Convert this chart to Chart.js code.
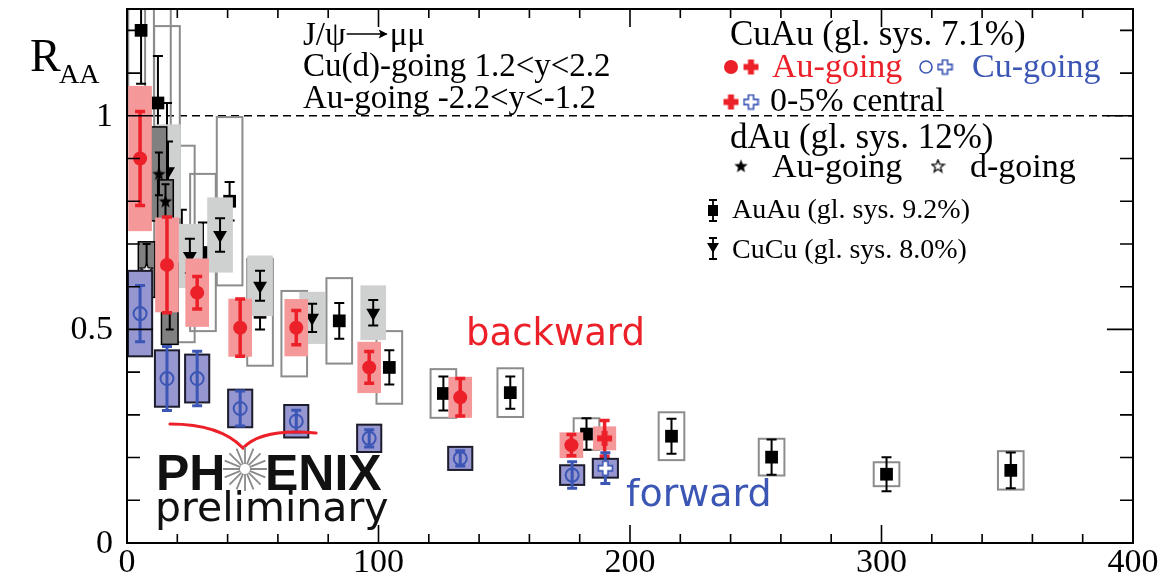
<!DOCTYPE html>
<html>
<head>
<meta charset="utf-8">
<script src="https://cdn.jsdelivr.net/npm/chart.js@4"></script>
<style>
  html, body { margin: 0; padding: 0; background: #fff; }
  #wrap { width: 1163px; height: 583px; position: relative; }
</style>
</head>
<body>
<div id="wrap"><canvas id="c" width="1163" height="583"></canvas></div>
<script>
// ---- J/psi R_AA vs Npart -------------------------------------------------

// Au+Au, forward/backward rapidity (black squares, open boxes)
const auauNpart = [5.6, 12.3, 15.9, 21.8, 30.2, 40.8, 52.9, 66.5, 84.4, 104.3, 125.8, 152.4, 182.7, 216.5, 256.3, 302.0, 351.4];
const auauRaa   = [1.20, 1.03, 0.93, 0.70, 0.68, 0.80, 0.54, 0.49, 0.52, 0.411, 0.350, 0.352, 0.255, 0.250, 0.201, 0.161, 0.170];
const auauStat  = [0.125, 0.11, 0.10, 0.08, 0.07, 0.045, 0.04, 0.05, 0.042, 0.040, 0.040, 0.038, 0.037, 0.041, 0.041, 0.040, 0.042];
const auauSys   = [0.20, 0.25, 0.28, 0.23, 0.184, 0.197, 0.125, 0.10, 0.10, 0.085, 0.057, 0.057, 0.037, 0.056, 0.043, 0.028, 0.045];

// Cu+Cu (black down triangles, light grey boxes)
const cucuNpart = [16.3, 25.0, 37.0, 52.9, 73.6, 97.9];
const cucuRaa   = [0.87, 0.672, 0.721, 0.602, 0.527, 0.539];
const cucuStat  = [0.07, 0.040, 0.039, 0.035, 0.033, 0.030];
const cucuSys   = [0.11, 0.075, 0.088, 0.071, 0.061, 0.064];

// d+Au, Au-going (filled stars) and d-going (open stars), dark grey boxes
const dauAuGoingNpart = [12.7, 15.3];
const dauAuGoingRaa   = [0.864, 0.80];
const dauAuGoingStat  = [0.05, 0.04];
const dauAuGoingSys   = [0.11, 0.05];
const dauDGoingNpart  = [7.8, 17.0];
const dauDGoingRaa    = [0.64, 0.56];
const dauDGoingStat   = [0.06, 0.06];
const dauDGoingSys    = [0.065, 0.095];

// Cu+Au, Au-going (backward): red filled circles, pink boxes
const cuauAuNpart = [5.2, 15.9, 27.9, 45.0, 67.3, 96.3, 132.5, 176.7];
const cuauAuRaa   = [0.90, 0.651, 0.586, 0.504, 0.504, 0.411, 0.341, 0.229];
const cuauAuStat  = [0.11, 0.112, 0.038, 0.067, 0.040, 0.037, 0.044, 0.025];
const cuauAuSys   = [0.17, 0.111, 0.080, 0.068, 0.067, 0.060, 0.048, 0.030];
// Cu+Au 0-5% central, Au-going (red cross)
const cuauAuCentNpart = [189.9];
const cuauAuCentRaa   = [0.245];
const cuauAuCentStat  = [0.042];
const cuauAuCentSys   = [0.028];

// Cu+Au, Cu-going (forward): blue open circles, blue boxes
const cuauCuNpart = [5.2, 15.9, 27.9, 45.0, 67.3, 96.3, 132.5, 177.0];
const cuauCuRaa   = [0.537, 0.385, 0.385, 0.315, 0.285, 0.245, 0.198, 0.159];
const cuauCuStat  = [0.066, 0.075, 0.064, 0.041, 0.026, 0.020, 0.018, 0.031];
const cuauCuSys   = [0.100, 0.066, 0.056, 0.044, 0.038, 0.032, 0.027, 0.023];
// Cu+Au 0-5% central, Cu-going (blue open cross)
const cuauCuCentNpart = [190.2];
const cuauCuCentRaa   = [0.175];
const cuauCuCentStat  = [0.036];
const cuauCuCentSys   = [0.022];

// axes
const xMajorTicks = [0, 100, 200, 300, 400];
const yMajorTicks = [0, 0.5, 1];
const xMinorStep = 20;
const yMinorStep = 0.1;
const unityLine = 1;

// ---- styling -------------------------------------------------------------
const RED = '#ec2028';
const PINK = 'rgb(244,152,154)';
const BLUE = '#3b56b4';
const BLUEBOX = 'rgb(150,150,208)';
const SERIF = '"Liberation Serif", "Times New Roman", serif';
const SANS = '"DejaVu Sans", sans-serif';

function makeMarker(size, draw) {
  const c = document.createElement('canvas');
  c.width = size; c.height = size;
  draw(c.getContext('2d'), size);
  return c;
}
function plusPath(g, cx, cy, arm, half) {
  g.beginPath();
  g.moveTo(cx - half, cy - arm); g.lineTo(cx + half, cy - arm); g.lineTo(cx + half, cy - half);
  g.lineTo(cx + arm, cy - half); g.lineTo(cx + arm, cy + half); g.lineTo(cx + half, cy + half);
  g.lineTo(cx + half, cy + arm); g.lineTo(cx - half, cy + arm); g.lineTo(cx - half, cy + half);
  g.lineTo(cx - arm, cy + half); g.lineTo(cx - arm, cy - half); g.lineTo(cx - half, cy - half);
  g.closePath();
}
function starPath(g, cx, cy, ro, ri) {
  g.beginPath();
  for (let k = 0; k < 10; k++) {
    const r = k % 2 ? ri : ro;
    const a = -Math.PI / 2 + k * Math.PI / 5;
    const px = cx + r * Math.cos(a), py = cy + r * Math.sin(a);
    if (k === 0) g.moveTo(px, py); else g.lineTo(px, py);
  }
  g.closePath();
}
const redCross = makeMarker(17, (g, s) => { plusPath(g, s / 2, s / 2, 7.5, 3); g.fillStyle = RED; g.fill(); });
const blueCross = makeMarker(17, (g, s) => {
  plusPath(g, s / 2, s / 2, 7, 2.6); g.fillStyle = '#fff'; g.fill();
  g.strokeStyle = BLUE; g.lineWidth = 1.6; g.stroke();
});
const fullStar = makeMarker(15, (g, s) => { starPath(g, s / 2, s / 2 + 0.5, 7, 3); g.fillStyle = '#000'; g.fill(); });
const openStar = makeMarker(15, (g, s) => {
  starPath(g, s / 2, s / 2 + 0.5, 6.5, 2.8); g.fillStyle = '#fff'; g.fill();
  g.strokeStyle = '#000'; g.lineWidth = 1.3; g.stroke();
});

function pts(xs, ys) { return xs.map((v, i) => ({ x: v, y: ys[i] })); }

// ---- error bars and systematic boxes, drawn under each dataset's markers --
const errorPlugin = {
  id: 'errorBoxes',
  beforeDatasetDraw(chart, args) {
    const ds = chart.data.datasets[args.index];
    const e = ds.errs;
    if (!e) return;
    const { ctx, chartArea: a, scales: { x, y } } = chart;
    ctx.save();
    ctx.beginPath();
    ctx.rect(a.left, a.top, a.right - a.left, a.bottom - a.top);
    ctx.clip();
    ds.data.forEach((p, i) => {
      const x0 = x.getPixelForValue(p.x - e.half), x1 = x.getPixelForValue(p.x + e.half);
      const y0 = y.getPixelForValue(p.y + e.sys[i]), y1 = y.getPixelForValue(p.y - e.sys[i]);
      if (e.fill) { ctx.fillStyle = e.fill; ctx.fillRect(x0, y0, x1 - x0, y1 - y0); }
      if (e.line) { ctx.strokeStyle = e.line; ctx.lineWidth = e.lineW; ctx.strokeRect(x0, y0, x1 - x0, y1 - y0); }
    });
    ds.data.forEach((p, i) => {
      const xc = x.getPixelForValue(p.x);
      const yt = y.getPixelForValue(p.y + e.stat[i]), yb = y.getPixelForValue(p.y - e.stat[i]);
      ctx.strokeStyle = e.bar; ctx.lineWidth = e.barW; ctx.lineCap = 'butt';
      ctx.beginPath();
      ctx.moveTo(xc, yt); ctx.lineTo(xc, yb);
      ctx.moveTo(xc - e.cap, yt); ctx.lineTo(xc + e.cap, yt);
      ctx.moveTo(xc - e.cap, yb); ctx.lineTo(xc + e.cap, yb);
      ctx.stroke();
    });
    ctx.restore();
  }
};

function txt(ctx, s, x, y, font, color, align) {
  ctx.font = font; ctx.fillStyle = color; ctx.textAlign = align || 'left'; ctx.textBaseline = 'alphabetic';
  ctx.fillText(s, x, y);
}
function dot(ctx, x, y, r, fill, stroke, lw) {
  ctx.beginPath(); ctx.arc(x, y, r, 0, Math.PI * 2);
  if (fill) { ctx.fillStyle = fill; ctx.fill(); }
  if (stroke) { ctx.strokeStyle = stroke; ctx.lineWidth = lw; ctx.stroke(); }
}
function img(ctx, m, x, y) { ctx.drawImage(m, x - m.width / 2, y - m.height / 2); }

// ---- frame, ticks, labels, legend, annotations --------------------------
const decorPlugin = {
  id: 'decor',
  beforeDatasetsDraw(chart) {
    const { ctx, chartArea: a, scales: { y } } = chart;
    const yy = y.getPixelForValue(unityLine);
    ctx.save();
    ctx.strokeStyle = '#000'; ctx.lineWidth = 1.5; ctx.setLineDash([8, 5]);
    ctx.beginPath(); ctx.moveTo(a.left, yy); ctx.lineTo(a.right, yy); ctx.stroke();
    ctx.restore();
  },
  afterDraw(chart) {
    const { ctx, chartArea: a, scales: { x, y } } = chart;
    ctx.save();
    // frame
    ctx.strokeStyle = '#000'; ctx.lineWidth = 2;
    ctx.strokeRect(a.left, a.top, a.right - a.left, a.bottom - a.top);
    // ticks (inward, mirrored on top and right)
    ctx.lineWidth = 1.6;
    ctx.beginPath();
    for (let v = x.min; v <= x.max + 1e-9; v += xMinorStep) {
      const px = x.getPixelForValue(v);
      const len = xMajorTicks.includes(Math.round(v)) ? 18 : 9;
      ctx.moveTo(px, a.bottom); ctx.lineTo(px, a.bottom - len);
      ctx.moveTo(px, a.top); ctx.lineTo(px, a.top + len);
    }
    for (let k = 0; k * yMinorStep <= y.max + 1e-9; k++) {
      const v = +(k * yMinorStep).toFixed(2);
      const py = y.getPixelForValue(v);
      const len = yMajorTicks.includes(v) ? 26 : 13;
      ctx.moveTo(a.left, py); ctx.lineTo(a.left + len, py);
      ctx.moveTo(a.right, py); ctx.lineTo(a.right - len, py);
    }
    ctx.stroke();
    // tick labels
    xMajorTicks.forEach(v => txt(ctx, String(v), x.getPixelForValue(v), 572, '34px ' + SERIF, '#000', 'center'));
    yMajorTicks.forEach(v => {
      ctx.font = '34px ' + SERIF; ctx.fillStyle = '#000'; ctx.textAlign = 'right'; ctx.textBaseline = 'middle';
      ctx.fillText(String(v), 113, y.getPixelForValue(v) + 1);
    });
    // axis title
    txt(ctx, 'R', 30, 71, '46px ' + SERIF, '#000');
    txt(ctx, 'AA', 59, 83, '28px ' + SERIF, '#000');

    // reaction / rapidity annotations
    const f33 = '33px ' + SERIF;
    txt(ctx, 'J/\u03C8', 303, 45, f33, '#000');
    ctx.font = f33;
    const ax = 303 + ctx.measureText('J/\u03C8').width + 1;
    ctx.strokeStyle = '#000'; ctx.lineWidth = 1.5;
    ctx.beginPath(); ctx.moveTo(ax, 34); ctx.lineTo(ax + 40, 34); ctx.stroke();
    ctx.beginPath(); ctx.moveTo(ax + 41, 34); ctx.lineTo(ax + 32, 29.5); ctx.lineTo(ax + 34, 34); ctx.lineTo(ax + 32, 38.5); ctx.closePath();
    ctx.fillStyle = '#000'; ctx.fill();
    txt(ctx, '\u03BC\u03BC', ax + 43, 45, f33, '#000');
    txt(ctx, 'Cu(d)-going 1.2<y<2.2', 303, 76, f33, '#000');
    txt(ctx, 'Au-going -2.2<y<-1.2', 303, 108, f33, '#000');

    // legend
    txt(ctx, 'CuAu (gl. sys. 7.1%)', 730, 45, '35px ' + SERIF, '#000');
    dot(ctx, 731, 67, 7, RED);
    img(ctx, redCross, 751, 67);
    txt(ctx, 'Au-going', 772, 77, '34px ' + SERIF, RED);
    dot(ctx, 926, 67, 6, null, BLUE, 1.6);
    img(ctx, blueCross, 945, 67);
    txt(ctx, 'Cu-going', 972, 77, '34px ' + SERIF, BLUE);
    img(ctx, redCross, 731, 102);
    img(ctx, blueCross, 751, 102);
    txt(ctx, '0-5% central', 770, 111, '34px ' + SERIF, '#000');
    txt(ctx, 'dAu (gl. sys. 12%)', 730, 148, '35px ' + SERIF, '#000');
    img(ctx, fullStar, 741, 166);
    txt(ctx, 'Au-going', 772, 177, '34px ' + SERIF, '#000');
    img(ctx, openStar, 938, 166);
    txt(ctx, 'd-going', 970, 177, '34px ' + SERIF, '#000');
    // AuAu legend entry
    ctx.strokeStyle = '#000'; ctx.lineWidth = 1.8;
    ctx.beginPath();
    ctx.moveTo(713, 200); ctx.lineTo(713, 221);
    ctx.moveTo(709, 200); ctx.lineTo(717, 200);
    ctx.moveTo(709, 221); ctx.lineTo(717, 221);
    ctx.stroke();
    ctx.fillStyle = '#000'; ctx.fillRect(708, 205, 10, 11);
    txt(ctx, 'AuAu (gl. sys. 9.2%)', 732, 218, '28px ' + SERIF, '#000');
    // CuCu legend entry
    ctx.beginPath();
    ctx.moveTo(713, 238); ctx.lineTo(713, 259);
    ctx.moveTo(709, 238); ctx.lineTo(717, 238);
    ctx.moveTo(709, 259); ctx.lineTo(717, 259);
    ctx.stroke();
    ctx.beginPath(); ctx.moveTo(707, 243); ctx.lineTo(719, 243); ctx.lineTo(713, 253); ctx.closePath(); ctx.fill();
    txt(ctx, 'CuCu (gl. sys. 8.0%)', 732, 258, '28px ' + SERIF, '#000');

    // rapidity labels
    txt(ctx, 'backward', 466, 345, '37px ' + SANS, RED);
    txt(ctx, 'forward', 626, 506, '38px ' + SANS, BLUE);

    // PHENIX preliminary logo
    ctx.strokeStyle = RED; ctx.lineWidth = 3.2; ctx.lineCap = 'round';
    ctx.beginPath();
    ctx.moveTo(170, 424);
    ctx.quadraticCurveTo(220, 424, 243, 448);
    ctx.quadraticCurveTo(262, 428, 316, 433);
    ctx.stroke();
    txt(ctx, 'PH', 156, 490, 'bold 50px "Liberation Sans", Arial, sans-serif', '#111');
    txt(ctx, 'ENIX', 265, 490, 'bold 50px "Liberation Sans", Arial, sans-serif', '#111');
    ctx.strokeStyle = '#8a8a8a'; ctx.lineWidth = 1.8; ctx.lineCap = 'butt';
    ctx.beginPath();
    for (let k = 0; k < 16; k++) {
      const ang = k * Math.PI / 8;
      ctx.moveTo(245 + 5 * Math.cos(ang), 469 + 5 * Math.sin(ang));
      ctx.lineTo(245 + 22 * Math.cos(ang), 469 + 22 * Math.sin(ang));
    }
    ctx.stroke();
    txt(ctx, 'preliminary', 155, 521, '41px ' + SANS, '#111');
    ctx.restore();
  }
};

new Chart(document.getElementById('c'), {
  type: 'scatter',
  data: {
    datasets: [
      {
        label: 'AuAu', order: 8, data: pts(auauNpart, auauRaa),
        pointStyle: 'rect', pointRadius: 9, backgroundColor: '#000', borderColor: '#000', borderWidth: 0,
        errs: { stat: auauStat, sys: auauSys, half: 5.1, fill: null, line: 'rgb(140,140,140)', lineW: 2, bar: '#000', barW: 2, cap: 5 }
      },
      {
        label: 'CuCu', order: 7, data: pts(cucuNpart, cucuRaa),
        pointStyle: 'triangle', rotation: 180, pointRadius: 8, backgroundColor: '#000', borderColor: '#000', borderWidth: 0,
        errs: { stat: cucuStat, sys: cucuSys, half: 5.1, fill: 'rgb(207,208,208)', line: null, lineW: 0, bar: '#000', barW: 2, cap: 5 }
      },
      {
        label: 'dAu d-going', order: 6, data: pts(dauDGoingNpart, dauDGoingRaa),
        pointStyle: openStar, pointRadius: 7,
        errs: { stat: dauDGoingStat, sys: dauDGoingSys, half: 3.3, fill: 'rgb(128,128,128)', line: '#000', lineW: 1.5, bar: '#000', barW: 2, cap: 4 }
      },
      {
        label: 'dAu Au-going', order: 5, data: pts(dauAuGoingNpart, dauAuGoingRaa),
        pointStyle: fullStar, pointRadius: 7,
        errs: { stat: dauAuGoingStat, sys: dauAuGoingSys, half: 3.1, fill: 'rgb(128,128,128)', line: '#000', lineW: 1.5, bar: '#000', barW: 2, cap: 4 }
      },
      {
        label: 'CuAu Au-going', order: 4, data: pts(cuauAuNpart, cuauAuRaa),
        pointStyle: 'circle', pointRadius: 7, backgroundColor: RED, borderColor: RED, borderWidth: 0,
        errs: { stat: cuauAuStat, sys: cuauAuSys, half: 4.7, fill: PINK, line: null, lineW: 0, bar: RED, barW: 3.5, cap: 5 }
      },
      {
        label: 'CuAu Au-going 0-5%', order: 3, data: pts(cuauAuCentNpart, cuauAuCentRaa),
        pointStyle: redCross, pointRadius: 8,
        errs: { stat: cuauAuCentStat, sys: cuauAuCentSys, half: 4.6, fill: PINK, line: null, lineW: 0, bar: RED, barW: 3.5, cap: 5 }
      },
      {
        label: 'CuAu Cu-going', order: 2, data: pts(cuauCuNpart, cuauCuRaa),
        pointStyle: 'circle', pointRadius: 6.5, backgroundColor: 'rgba(0,0,0,0)', borderColor: BLUE, borderWidth: 2,
        errs: { stat: cuauCuStat, sys: cuauCuSys, half: 4.8, fill: BLUEBOX, line: '#1c1c2c', lineW: 2, bar: BLUE, barW: 3, cap: 5 }
      },
      {
        label: 'CuAu Cu-going 0-5%', order: 1, data: pts(cuauCuCentNpart, cuauCuCentRaa),
        pointStyle: blueCross, pointRadius: 8,
        errs: { stat: cuauCuCentStat, sys: cuauCuCentSys, half: 5.0, fill: BLUEBOX, line: '#1c1c2c', lineW: 2, bar: BLUE, barW: 3, cap: 5 }
      }
    ]
  },
  options: {
    responsive: false,
    animation: false,
    devicePixelRatio: 1,
    events: [],
    layout: { padding: { top: 7, right: 30, left: 0, bottom: 0 } },
    plugins: { legend: { display: false }, tooltip: { enabled: false } },
    scales: {
      x: {
        type: 'linear', min: 0, max: 400,
        grid: { display: false }, border: { display: false }, ticks: { display: false },
        afterFit(s) { s.height = 40; }
      },
      y: {
        type: 'linear', min: 0, max: 1.25,
        grid: { display: false }, border: { display: false }, ticks: { display: false },
        afterFit(s) { s.width = 127; }
      }
    }
  },
  plugins: [errorPlugin, decorPlugin]
});
</script>
</body>
</html>
